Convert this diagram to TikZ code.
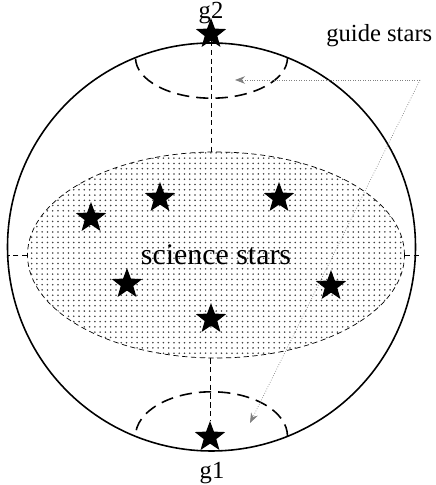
\documentclass[tikz,border=0pt]{standalone}
\usepackage{fontspec}
\setmainfont{Liberation Serif}
\usetikzlibrary{shapes.geometric,patterns,arrows.meta}

\tikzset{
  starnode/.style={star, star points=5, star point ratio=2.4, fill=black, inner sep=0pt, minimum size=0.64cm},
  guide/.style={densely dotted, gray, thin, -{Stealth[length=2mm]}},
  capline/.style={line width=0.9pt, dash pattern=on 7pt off 4pt},
  lbl/.style={font=\fontsize{14}{16}\selectfont, inner sep=0pt}
}

\begin{document}
\begin{tikzpicture}
\useasboundingbox (0,0) rectangle (8.72,9.70);

\node (sphere) at (4.23,4.76) [circle, draw, line width=0.9pt, minimum size=8.16cm, inner sep=0pt] {};
\node (science) at (4.32,4.60) [ellipse, draw, densely dashed, pattern=dots, pattern color=black!75, minimum width=7.54cm, minimum height=4.12cm, inner sep=0pt, font=\fontsize{17}{19}\selectfont] {science stars};

\node (g2) at (4.22,9.02) [starnode] {};
\node (g1) at (4.20,0.96) [starnode] {};
\node (s1) at (1.82,5.34) [starnode] {};
\node (s2) at (3.20,5.74) [starnode] {};
\node (s3) at (5.58,5.74) [starnode] {};
\node (s4) at (2.54,4.02) [starnode] {};
\node (s5) at (6.62,3.98) [starnode] {};
\node (s6) at (4.22,3.32) [starnode] {};

\node (g2lbl) at (4.22,9.44) [lbl] {g2};
\node (g1lbl) at (4.24,0.24) [lbl] {g1};
\node (guidelbl) at (6.52,8.98) [lbl, anchor=west] {guide stars};

% caps round the guide stars
\draw [capline] (5.75,8.546) arc [start angle=0, end angle=-180, x radius=1.52cm, y radius=0.81cm];
\draw [capline] (5.75,0.974) arc [start angle=0, end angle=180, x radius=1.52cm, y radius=0.89cm];

\draw [densely dashed] (g2) -- (science.north -| g2);
\draw [densely dashed] (science.south -| g1) -- (g1);
\draw [densely dashed] (science.west) -- (science.west -| sphere.west);
\draw [densely dashed] (science.east) -- ([xshift=1mm]science.east -| sphere.east);

\coordinate (hub) at (8.40,8.10);
\coordinate (topcap) at (4.70,8.10);
\coordinate (botcap) at (5.00,1.24);
\draw [guide] (hub) -- (topcap);
\draw [guide] (hub) -- (botcap);
\end{tikzpicture}
\end{document}
